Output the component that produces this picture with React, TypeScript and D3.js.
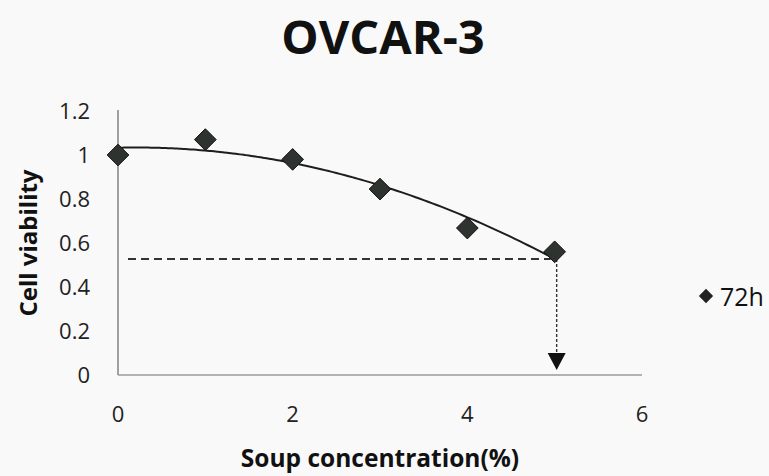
import React from "react";
import * as d3 from "d3";

const concentrations = [0, 1, 2, 3, 4, 5];
const viability = [1.0, 1.07, 0.98, 0.845, 0.668, 0.56];
const xTicks = [0, 2, 4, 6];
const yTicks = [0, 0.2, 0.4, 0.6, 0.8, 1, 1.2];
const seriesName = "72h";
const title = "OVCAR-3";
const xTitle = "Soup concentration(%)";
const yTitle = "Cell viability";

const W = 769;
const H = 476;

// least-squares 2nd order polynomial fit (like a spreadsheet trendline)
function polyFit2(xs: number[], ys: number[]) {
  const S = (f: (x: number, y: number) => number) =>
    xs.reduce((s, x, i) => s + f(x, ys[i]), 0);
  const n = xs.length;
  const sx = S((x) => x), sx2 = S((x) => x * x), sx3 = S((x) => x ** 3), sx4 = S((x) => x ** 4);
  const sy = S((_, y) => y), sxy = S((x, y) => x * y), sx2y = S((x, y) => x * x * y);
  const M = [
    [n, sx, sx2, sy],
    [sx, sx2, sx3, sxy],
    [sx2, sx3, sx4, sx2y],
  ];
  for (let i = 0; i < 3; i++) {
    for (let k = i + 1; k < 3; k++) {
      const f = M[k][i] / M[i][i];
      for (let j = i; j < 4; j++) M[k][j] -= f * M[i][j];
    }
  }
  const c = [0, 0, 0];
  for (let i = 2; i >= 0; i--) {
    let s = M[i][3];
    for (let j = i + 1; j < 3; j++) s -= M[i][j] * c[j];
    c[i] = s / M[i][i];
  }
  return (x: number) => c[0] + c[1] * x + c[2] * x * x;
}

export default function App() {
  const x = d3.scaleLinear().domain([0, 6]).range([118, 642]);
  const y = d3.scaleLinear().domain([0, 1.2]).range([375, 111]);
  const fit = polyFit2(concentrations, viability);
  const xMax = d3.max(concentrations) as number;
  const fitPts = d3.range(0, xMax + 0.0001, 0.05).map((v) => [v, fit(v)] as [number, number]);
  const line = d3
    .line<[number, number]>()
    .x((d) => x(d[0]))
    .y((d) => y(d[1]))
    .curve(d3.curveBasis);
  const endVal = fit(xMax);
  const diamond = d3.symbol().type(d3.symbolDiamond2);
  const font = "'Open Sans', 'DejaVu Sans', sans-serif";
  const ax = x(xMax);
  const ay = y(endVal);
  const arrowTip = y(0) - 5;

  return (
    <svg
      width={W}
      height={H}
      style={{ position: "absolute", left: 0, top: 0, background: "#f9f9f9" }}
      fontFamily={font}
    >
      <rect x={0} y={0} width={W} height={H} fill="#f9f9f9" />
      <text x={383} y={54} textAnchor="middle" fontSize={47} fontWeight={700} fill="#111">
        {title}
      </text>
      {/* axes */}
      <line x1={x(0)} x2={x(0)} y1={110} y2={y(0)} stroke="#8a8a8a" strokeWidth={1.6} />
      <line x1={x(0)} x2={x(6)} y1={y(0)} y2={y(0)} stroke="#9a9a9a" strokeWidth={1.6} />
      {yTicks.map((t) => (
        <text key={t} x={90} y={y(t)} dy="0.35em" textAnchor="end" fontSize={22} fill="#222">
          {String(t)}
        </text>
      ))}
      {xTicks.map((t) => (
        <text key={t} x={x(t)} y={422} textAnchor="middle" fontSize={22} fill="#222">
          {String(t)}
        </text>
      ))}
      <text
        transform={`translate(37,243) rotate(-90)`}
        textAnchor="middle"
        fontSize={24}
        fontWeight={700}
        fill="#111"
      >
        {yTitle}
      </text>
      <text x={380} y={467} textAnchor="middle" fontSize={24.5} fontWeight={700} fill="#111">
        {xTitle}
      </text>
      {/* IC50 guide lines */}
      <line x1={x(0) + 10} x2={ax - 4} y1={ay} y2={ay} stroke="#333" strokeWidth={2} strokeDasharray="8,5" />
      <line x1={ax + 2} x2={ax + 2} y1={ay} y2={arrowTip - 16} stroke="#333" strokeWidth={1.4} strokeDasharray="3,2" />
      <path
        d={`M${ax + 2 - 9},${arrowTip - 17} L${ax + 2 + 9},${arrowTip - 17} L${ax + 2},${arrowTip} Z`}
        fill="#111"
      />
      {/* trend line */}
      <path d={line(fitPts) || ""} fill="none" stroke="#1e1e1e" strokeWidth={2} />
      {/* points */}
      {concentrations.map((c, i) => (
        <path
          key={c}
          d={diamond.size(300)() || ""}
          transform={`translate(${x(c)},${y(viability[i])})`}
          fill="#2e3330"
          stroke="#111"
          strokeWidth={1}
        />
      ))}
      {/* legend */}
      <path d={diamond.size(130)() || ""} transform="translate(706,296)" fill="#222" />
      <text x={720} y={306} fontSize={25} fill="#111">
        {seriesName}
      </text>
    </svg>
  );
}
